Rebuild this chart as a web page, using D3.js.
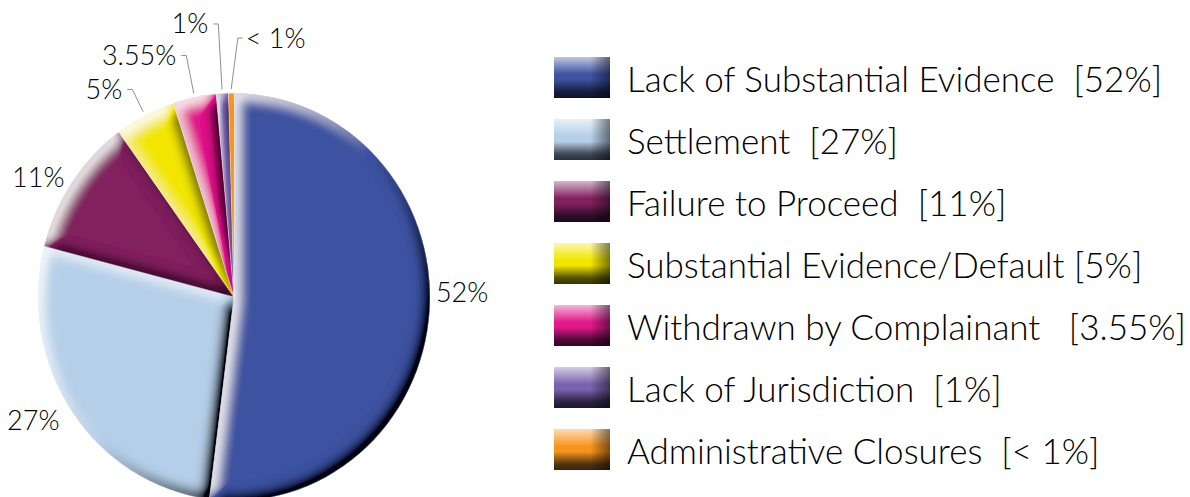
<!DOCTYPE html>
<html>
<head>
<meta charset="utf-8">
<script src="https://cdn.jsdelivr.net/npm/d3@7"></script>
<style>
  body { margin: 0; background: #fff; }
  text { font-family: "Century Gothic", "Lato", "DejaVu Sans", sans-serif; font-weight: 300; fill: #000; white-space: pre; }
</style>
</head>
<body>
<svg id="chart" width="1190" height="497"></svg>
<script>
// data
const categories = ["Lack of Substantial Evidence", "Settlement", "Failure to Proceed",
  "Substantial Evidence/Default", "Withdrawn by Complainant", "Lack of Jurisdiction", "Administrative Closures"];
const shares = [52, 27, 11, 5, 3.55, 1, 0.45];
const sliceLabels = ["52%", "27%", "11%", "5%", "3.55%", "1%", "< 1%"];
const legendTags = ["  [52%]", "  [27%]", "  [11%]", " [5%]", "   [3.55%]", "  [1%]", "  [< 1%]"];
const colors = ["#3d52a1", "#b6cfe8", "#81215f", "#f2e600", "#e0188b", "#7a62ad", "#f7941e"];

// label layout: radius of the label (or of the leader elbow), angle nudge in degrees, leader or not
const labelRadius = [202, 211, 205, 224, 237, 263, 249];
const labelNudge = [-4.7, 0, 0, 0, 0, 0, 1.7];
const hasLeader = [false, false, false, true, true, true, true];

const svg = d3.select("#chart");
const defs = svg.append("defs");

// emboss-like bevel: light where the shape continues down-right, dark where it continues up-left
function addBevel(id, blur, off, gain, darkOp, lightOp) {
    const f = defs.append("filter").attr("id", id)
        .attr("x", "-10%").attr("y", "-10%").attr("width", "120%").attr("height", "120%");
    f.append("feGaussianBlur").attr("in", "SourceAlpha").attr("stdDeviation", blur).attr("result", "b");
    f.append("feOffset").attr("in", "b").attr("dx", -off).attr("dy", -off).attr("result", "bUp");
    f.append("feOffset").attr("in", "b").attr("dx", off).attr("dy", off).attr("result", "bDown");
    f.append("feComposite").attr("in", "bDown").attr("in2", "bUp")
        .attr("operator", "arithmetic").attr("k2", gain).attr("k3", -gain).attr("result", "dRaw");
    f.append("feComposite").attr("in", "bUp").attr("in2", "bDown")
        .attr("operator", "arithmetic").attr("k2", gain).attr("k3", -gain).attr("result", "lRaw");
    f.append("feComposite").attr("in", "dRaw").attr("in2", "SourceAlpha").attr("operator", "in").attr("result", "darkM");
    f.append("feComposite").attr("in", "lRaw").attr("in2", "SourceAlpha").attr("operator", "in").attr("result", "lightM");
    f.append("feFlood").attr("flood-color", "#02030c").attr("flood-opacity", darkOp).attr("result", "fd");
    f.append("feComposite").attr("in", "fd").attr("in2", "darkM").attr("operator", "in").attr("result", "dark");
    f.append("feFlood").attr("flood-color", "#fff").attr("flood-opacity", lightOp).attr("result", "fl");
    f.append("feComposite").attr("in", "fl").attr("in2", "lightM").attr("operator", "in").attr("result", "light");
    const m = f.append("feMerge");
    m.append("feMergeNode").attr("in", "SourceGraphic");
    m.append("feMergeNode").attr("in", "dark");
    m.append("feMergeNode").attr("in", "light");
}
addBevel("bevelPie", 5.5, 6, 1.3, 1, 0.68);

// swatch shading
const gv = defs.append("linearGradient").attr("id", "keyV").attr("x1", 0).attr("y1", 0).attr("x2", 0).attr("y2", 1);
[[0, "#fff", 0.68], [0.42, "#fff", 0], [0.55, "#000", 0], [0.85, "#02030c", 0.66], [1, "#02030c", 0.78]]
    .forEach(s => gv.append("stop").attr("offset", s[0]).attr("stop-color", s[1]).attr("stop-opacity", s[2]));
const gh = defs.append("linearGradient").attr("id", "keyH").attr("x1", 0).attr("y1", 0).attr("x2", 1).attr("y2", 0);
[[0, "#000", 0], [0.65, "#000", 0], [1, "#02030c", 0.5]]
    .forEach(s => gh.append("stop").attr("offset", s[0]).attr("stop-color", s[1]).attr("stop-opacity", s[2]));

// pie
const cx = 234, cy = 297, radius = 196, squash = 1.04;
const pie = d3.pie().sort(null).value(d => d)(shares);
const arc = d3.arc().innerRadius(0).outerRadius(radius);

const pieG = svg.append("g").attr("transform", `translate(${cx},${cy}) scale(1,${squash})`);
pieG.selectAll("path.slice")
    .data(pie)
    .enter()
    .append("path")
        .attr("class", "slice")
        .attr("d", arc)
        .attr("fill", (d, i) => colors[i])
        .attr("filter", "url(#bevelPie)");
pieG.selectAll("path.edge")
    .data(pie)
    .enter()
    .append("path")
        .attr("class", "edge")
        .attr("d", arc)
        .attr("fill", "none")
        .attr("stroke", "rgba(255,255,255,0.4)")
        .attr("stroke-width", 0.6);

// labels and leader lines
function toScreen(angle, r) {
    const p = d3.pointRadial(angle, r);
    return [cx + p[0], cy + p[1] * squash];
}
const labG = svg.append("g");
pie.forEach((d, i) => {
    const mid = (d.startAngle + d.endAngle) / 2 + labelNudge[i] * Math.PI / 180;
    const fontSize = 27;
    if (hasLeader[i]) {
        const p0 = toScreen((d.startAngle + d.endAngle) / 2, radius + 4);
        const p1 = toScreen(mid, labelRadius[i]);
        const right = p1[0] > cx;
        const p2 = [p1[0] + (right ? 5 : -5), p1[1]];
        labG.append("path")
            .attr("d", d3.line()([p0, p1, p2]))
            .attr("fill", "none")
            .attr("stroke", "#8a8f99")
            .attr("stroke-width", 1);
        labG.append("text")
            .attr("x", p2[0] + (right ? 3 : -5))
            .attr("y", p2[1])
            .attr("dy", "0.35em")
            .attr("text-anchor", right ? "start" : "end")
            .style("font-size", fontSize + "px")
            .text(sliceLabels[i]);
    } else {
        const p = toScreen(mid, labelRadius[i]);
        labG.append("text")
            .attr("x", p[0])
            .attr("y", p[1])
            .attr("dy", "0.35em")
            .attr("text-anchor", p[0] > cx ? "start" : "end")
            .style("font-size", fontSize + "px")
            .text(sliceLabels[i]);
    }
});

// legend
const legendY = d3.scaleBand().domain(d3.range(categories.length)).range([57, 57 + 62 * 7]).paddingInner(0);
const leg = svg.append("g").selectAll("g")
    .data(categories)
    .enter()
    .append("g")
        .attr("transform", (d, i) => `translate(554,${legendY(i)})`);
leg.append("rect")
    .attr("width", 56)
    .attr("height", 41)
    .attr("fill", (d, i) => colors[i]);
leg.append("rect")
    .attr("width", 56)
    .attr("height", 41)
    .attr("fill", "url(#keyV)");
leg.append("rect")
    .attr("width", 56)
    .attr("height", 41)
    .attr("fill", "url(#keyH)");
leg.append("text")
    .attr("x", 73)
    .attr("y", 35)
    .style("font-size", "35px")
    .text((d, i) => d + legendTags[i]);
</script>
</body>
</html>
